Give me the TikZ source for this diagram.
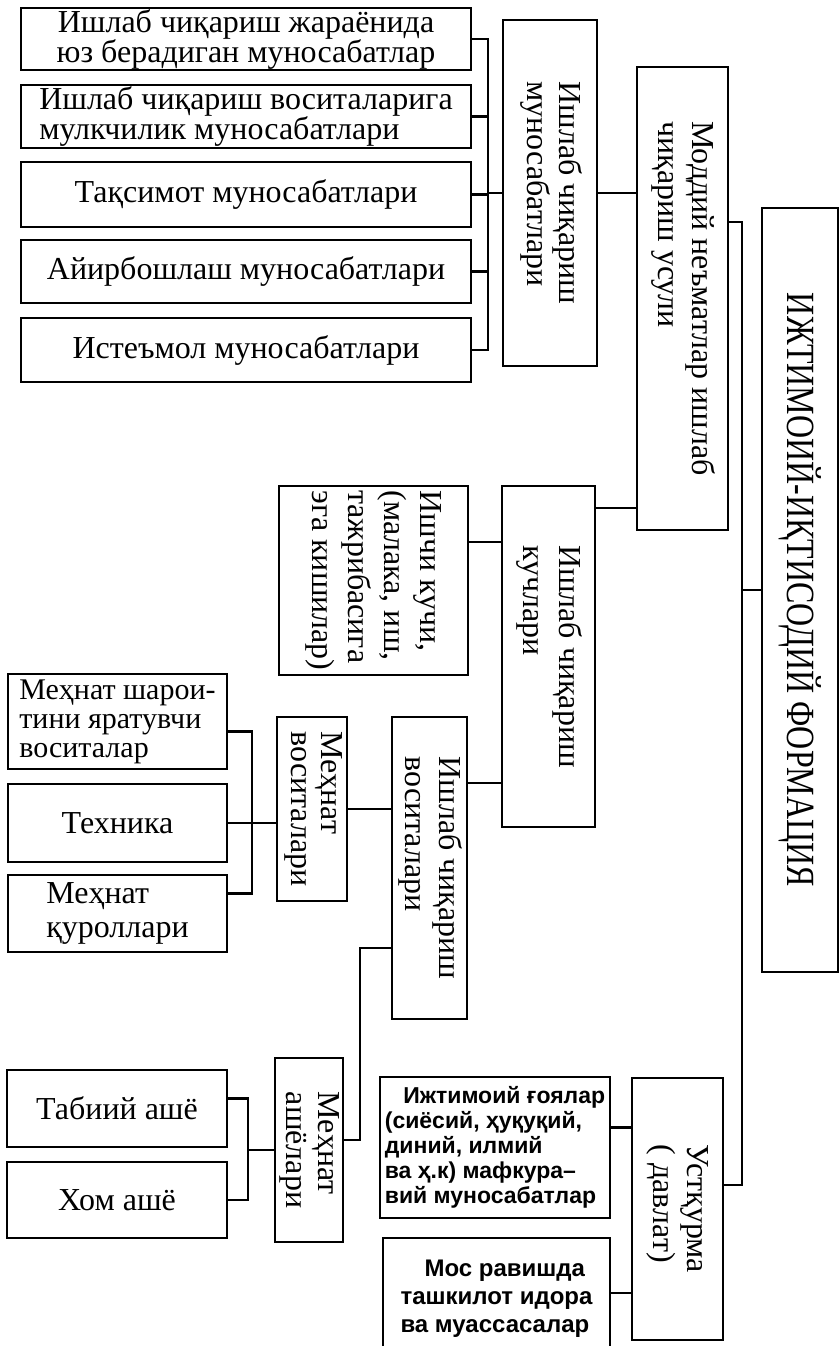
\documentclass[tikz,border=0pt]{standalone}
\usepackage{fontspec}
\setmainfont{Liberation Serif}
\setsansfont{Liberation Sans}
\newfontfamily\narrowfont[FakeStretch=0.8]{Liberation Serif}
\usepackage{graphicx}
\newcommand{\vtext}[1]{\rotatebox{-90}{\begin{tabular}{@{}l@{}}#1\end{tabular}}}

\begin{document}
\begin{tikzpicture}[x=0.5pt,y=-0.5pt,line width=1.3pt,inner sep=0pt,outer sep=0pt,
blk/.style={draw,rectangle,line width=1.4pt,align=center,font=\fontsize{16}{15}\selectfont},
wh/.style 2 args={minimum width=#1*0.5pt,minimum height=#2*0.5pt},
lsp/.style={font=\fontsize{16}{#1}\selectfont},
sfblk/.style={blk,align=left,font=\sffamily\bfseries\fontsize{11.5}{12.5}\selectfont}]

\clip (0,0) rectangle (840,1346);

\draw (246,39) node[blk,wh={450}{62}] (r1) {Ишлаб чиқариш жараёнида\\юз берадиган муносабатлар};
\draw (246,116.5) node[blk,wh={450}{63},align=left] (r2) {Ишлаб чиқариш воситаларига\\мулкчилик муносабатлари};
\draw (246,194.5) node[blk,wh={450}{65}] (r3) {Тақсимот муносабатлари};
\draw (246,271.5) node[blk,wh={450}{63}] (r4) {Айирбошлаш муносабатлари};
\draw (246,350) node[blk,wh={450}{64}] (r5) {Истеъмол муносабатлари};
\draw (550,193) node[blk,wh={94}{346},lsp=16] (pm) {\vtext{Ишлаб чиқариш\\муносабатлари}};
\draw (682.5,298.5) node[blk,wh={91}{463},lsp=17] (mp) {\vtext{Моддий неъматлар ишлаб\\чиқариш усули}};
\draw (800,590) node[blk,wh={76}{764}] (sf) {\rotatebox{-90}{\narrowfont\fontsize{20}{20}\selectfont ИЖТИМОИЙ-ИҚТИСОДИЙ ФОРМАЦИЯ}};
\draw (373.5,580.5) node[blk,wh={189}{189},lsp=18] (lp) {\vtext{Ишчи кучи,\\(малака, иш,\\тажрибасига\\эга кишилар)}};
\draw (548.5,656.5) node[blk,wh={93}{341},lsp=18] (pf) {\vtext{Ишлаб чиқариш\\кучлари}};
\draw (429.5,868) node[blk,wh={75}{302},lsp=17] (mpv) {\vtext{Ишлаб чиқариш\\воситалари}};
\draw (312,809) node[blk,wh={70}{184},lsp=15] (lm) {\vtext{Меҳнат\\воситалари}};
\draw (117.5,721.5) node[blk,wh={219}{95},align=left,font=\fontsize{15}{14.5}\selectfont] (s1) {Меҳнат шарои-\\тини яратувчи\\воситалар};
\draw (117.5,823) node[blk,wh={219}{78}] (s2) {Техника};
\draw (117.5,913.5) node[blk,wh={219}{77},align=left,lsp=17] (s3) {Меҳнат\\қуроллари};
\draw (309,1150) node[blk,wh={68}{184},lsp=16] (lo) {\vtext{Меҳнат\\ашёлари}};
\draw (117,1108.5) node[blk,wh={220}{77}] (t1) {Табиий ашё};
\draw (117,1200) node[blk,wh={220}{76}] (t2) {Хом ашё};
\draw (495,1147.5) node[sfblk,wh={230}{141}] (i1) {\hspace*{0.8em}Ижтимоий ғоялар\\(сиёсий, ҳуқуқий,\\диний, илмий\\ва ҳ.к) мафкура–\\вий муносабатлар};
\draw (496.5,1299) node[sfblk,wh={227}{122},font=\sffamily\bfseries\fontsize{12}{14}\selectfont] (i2) {\hspace*{1em}Мос равишда\\ташкилот идора\\ва муассасалар};
\draw (677.5,1209) node[blk,wh={91}{262},lsp=17] (us) {\vtext{Устқурма\\( давлат)}};

\coordinate (ja) at (488,193);
\draw (r1.east) -| (ja) |- (r5.east);
\foreach \n in {r2,r3,r4} \draw (\n.east) -- (\n.east -| ja);
\draw (ja) -- (pm.west);
\draw (pm.east) -- (pm.east -| mp.west);
\coordinate (kq) at ([yshift=-11pt]pf.north east);
\draw (kq) -- (kq -| mp.west);
\coordinate (mq) at ([yshift=-77.5pt]mp.north east);
\coordinate (uq) at ([yshift=-53.5pt]us.north east);
\coordinate (jb) at (742,590);
\draw (mq) -| (jb) |- (uq);
\draw (jb) -- (sf.west);
\coordinate (lq) at ([yshift=-28pt]lp.north east);
\draw (lq) -- (lq -| pf.west);
\coordinate (vq) at ([yshift=-33pt]mpv.north east);
\draw (vq) -- (vq -| pf.west);
\draw (lm.east) -- (lm.east -| mpv.west);
\coordinate (jc) at (252,823);
\draw ([yshift=-5pt]s1.east) -| (jc) |- ([yshift=10pt]s3.east);
\draw (s2.east) -- (s2.east -| lm.west);
\coordinate (jd) at (248,1150);
\draw ([yshift=5pt]t1.east) -| (jd) |- (t2.east);
\draw (jd) -- (lo.west);
\coordinate (je) at (360,948);
\draw ([yshift=5pt]lo.east) -| (je) -- (je -| mpv.west);
\coordinate (iq) at ([yshift=10pt]i1.east);
\draw (iq) -- (iq -| us.west);
\coordinate (oq) at ([yshift=3pt]i2.east);
\draw (oq) -- (oq -| us.west);
\end{tikzpicture}
\end{document}
